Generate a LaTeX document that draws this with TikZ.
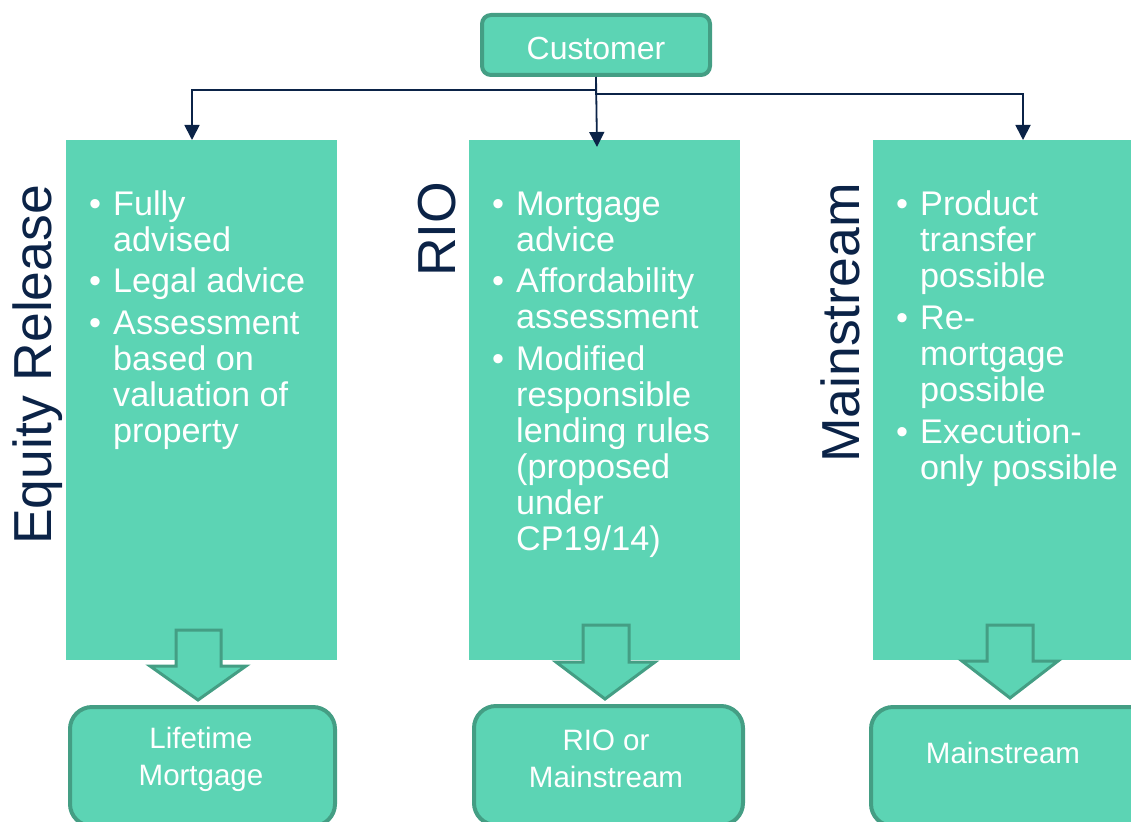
\documentclass[tikz,border=0pt]{standalone}
\usepackage{fontspec}
\setmainfont{Liberation Sans}
\usetikzlibrary{arrows.meta}
\definecolor{boxfill}{HTML}{5CD4B4}
\definecolor{boxline}{HTML}{449E84}
\definecolor{navyink}{HTML}{0B2347}
% stacked lines whose reference point is the first baseline
\newcommand\leftrows[1]{\vtop{\halign{##\hfil\cr#1\crcr}}}
\newcommand\centerrows[1]{\vtop{\halign{\hfil##\hfil\cr#1\crcr}}}
\begin{document}
\begin{tikzpicture}[x=1pt,y=-1pt,
  panel/.style={fill=boxfill, draw=none, inner sep=0pt, anchor=north west,
    minimum width=271pt, minimum height=520pt},
  outcome/.style={fill=boxfill, draw=boxline, line width=4pt, rounded corners=22pt,
    inner sep=0pt, anchor=north west, minimum height=119pt},
  topbox/.style={fill=boxfill, draw=boxline, line width=4pt, rounded corners=9pt,
    inner sep=0pt, minimum width=228pt, minimum height=60pt},
  blockarrow/.style={fill=boxfill, draw=boxline, line width=3pt, line join=miter},
  link/.style={draw=navyink, line width=1.8pt, -{Triangle[length=15pt,width=15pt]}},
  sidelabel/.style={text=navyink, rotate=90, anchor=base west, inner sep=0pt,
    font=\fontsize{53.5}{60}\selectfont},
  bul/.style={text=white, anchor=base west, inner sep=0pt,
    font=\fontsize{34.2}{36}\selectfont},
  itm/.style={text=white, anchor=base west, inner sep=0pt,
    font=\fontsize{34.2}{36}\selectfont},
  outtext/.style={text=white, anchor=base, inner sep=0pt,
    font=\fontsize{29.5}{37}\selectfont}
]
\useasboundingbox (0,0) rectangle (1131,821);

% top node
\node[topbox] (cust) at (596,45) {};
\node[text=white, anchor=base, inner sep=0pt, font=\fontsize{32}{36}\selectfont]
  (custtext) at (596,60) {Customer};

% three route panels
\node[panel] (erbox) at (66,140) {};
\node[panel] (riobox) at (469,140) {};
\node[panel] (msbox) at (873,140) {};

% outcome boxes
\node[outcome, minimum width=265pt] (lifebox) at (68,705) {};
\node[outcome, minimum width=269pt] (riooutbox) at (472,704) {};
\node[outcome, minimum width=280pt] (msoutbox) at (869,705) {};

% connectors from the customer
\coordinate (erTurn) at (192,90);
\coordinate (msTurn) at (1023,94);
\coordinate (rioTip) at (597,147);
\draw[link] (cust.south) |- (erTurn) -- (erTurn |- erbox.north);
\draw[link] (cust.south) |- (msTurn) -- (msTurn |- msbox.north);
\draw[link] (cust.south) -- (rioTip);

% side labels
\node[sidelabel] (erlabel) at (51,545) {Equity Release};
\node[sidelabel] (riolabel) at (455,277) {RIO};
\node[sidelabel] (mslabel) at (859,463) {Mainstream};

% equity release bullets
\node[bul] (b11) at (89,215) {•};
\node[itm] (i11) at (113,215) {\leftrows{Fully\cr advised}};
\node[bul] (b12) at (89,292) {•};
\node[itm] (i12) at (113,292) {Legal advice};
\node[bul] (b13) at (89,334) {•};
\node[itm] (i13) at (113,334) {\leftrows{Assessment\cr based on\cr valuation of\cr property}};

% RIO bullets
\node[bul] (b21) at (492,215) {•};
\node[itm] (i21) at (516,215) {\leftrows{Mortgage\cr advice}};
\node[bul] (b22) at (492,292) {•};
\node[itm] (i22) at (516,292) {\leftrows{Affordability\cr assessment}};
\node[bul] (b23) at (492,370) {•};
\node[itm] (i23) at (516,370) {\leftrows{Modified\cr responsible\cr lending rules\cr (proposed\cr under\cr CP19/14)}};

% mainstream bullets
\node[bul] (b31) at (896,215) {•};
\node[itm] (i31) at (920,215) {\leftrows{Product\cr transfer\cr possible}};
\node[bul] (b32) at (896,329) {•};
\node[itm] (i32) at (920,329) {\leftrows{Re-\cr mortgage\cr possible}};
\node[bul] (b33) at (896,443) {•};
\node[itm] (i33) at (920,443) {\leftrows{Execution-\cr only possible}};

% block arrows from panels to outcomes
\path[blockarrow] (176,630) -- (221,630) -- (221,666) -- (246,666) -- (198,700)
  -- (150,666) -- (176,666) -- cycle;
\path[blockarrow] (583,625) -- (629,625) -- (629,662) -- (655,662) -- (605,699)
  -- (556,662) -- (583,662) -- cycle;
\path[blockarrow] (987,625) -- (1033,625) -- (1033,661) -- (1058,661) -- (1010,698)
  -- (962,661) -- (987,661) -- cycle;

% outcome texts
\node[outtext] (lifetext) at (201,748) {\centerrows{Lifetime\cr Mortgage}};
\node[outtext] (riooutext) at (606,750) {\centerrows{RIO or\cr Mainstream}};
\node[outtext] (msouttext) at (1003,763) {Mainstream};
\end{tikzpicture}
\end{document}
